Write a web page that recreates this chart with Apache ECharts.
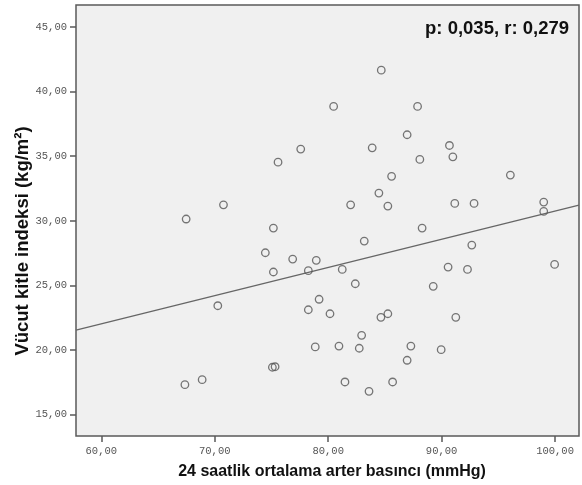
<!DOCTYPE html>
<html>
<head>
<meta charset="utf-8">
<script src="https://cdn.jsdelivr.net/npm/echarts@6/dist/echarts.min.js"></script>
<style>
  html, body { margin: 0; padding: 0; background: #ffffff; }
  #chart { width: 582px; height: 485px; }
</style>
</head>
<body>
<div id="chart"></div>
<script>
// ---- Data ----
const bloodPressure = [
  84.68, 80.48, 87.88, 86.96, 77.58, 83.88, 90.69, 75.58, 88.08, 90.99,
  85.59, 96.06, 84.47, 70.77, 81.98, 85.26, 91.16, 92.86, 99.00, 99.00,
  67.48, 75.17, 88.28, 83.18, 92.66, 74.46, 76.87, 78.95, 78.25, 75.17,
  81.24, 90.57, 92.28, 99.96, 82.39, 89.26, 79.20, 70.27, 78.25, 80.16,
  84.65, 85.26, 91.25, 82.95, 78.86, 80.95, 82.74, 87.29, 89.96, 86.96,
  75.08, 75.32, 68.89, 67.37, 81.48, 85.68, 83.60
];
const bodyMassIndex = [
  41.66, 38.85, 38.85, 36.66, 35.55, 35.65, 35.83, 34.54, 34.75, 34.95,
  33.44, 33.54, 32.15, 31.24, 31.24, 31.14, 31.35, 31.35, 31.45, 30.73,
  30.14, 29.44, 29.44, 28.43, 28.12, 27.53, 27.04, 26.94, 26.14, 26.04,
  26.24, 26.42, 26.24, 26.63, 25.13, 24.93, 23.93, 23.43, 23.12, 22.81,
  22.53, 22.81, 22.53, 21.14, 20.24, 20.31, 20.14, 20.31, 20.03, 19.21,
  18.67, 18.71, 17.71, 17.32, 17.53, 17.53, 16.81
];
const xTickValues = [60, 70, 80, 90, 100];
const yTickValues = [15, 20, 25, 30, 35, 40, 45];
const xRange = [57.77, 102.11];
const yRange = [13.35, 46.70];
const fitIntercept = 8.95;
const fitSlope = 0.218;
const xTitle = '24 saatlik ortalama arter basıncı (mmHg)';
const yTitle = 'Vücut kitle indeksi (kg/m²)';
const statText = 'p: 0,035, r: 0,279';

// ---- Build chart ----
const points = bloodPressure.map((x, i) => [x, bodyMassIndex[i]]);
const fitLine = xRange.map(x => [x, fitIntercept + fitSlope * x]);
const fmt = v => Number(v).toFixed(2).replace('.', ',');

const chart = echarts.init(document.getElementById('chart'), null, { renderer: 'canvas' });
const tickLabelStyle = {
  fontFamily: 'Liberation Mono',
  fontSize: 10.5,
  color: '#555555'
};
chart.setOption({
  animation: false,
  backgroundColor: '#ffffff',
  grid: {
    left: 76, right: 3, top: 5, bottom: 49,
    show: true,
    backgroundColor: '#f0f0f0',
    borderColor: '#5a5a5a',
    borderWidth: 1.5
  },
  xAxis: {
    type: 'value',
    min: xRange[0], max: xRange[1],
    axisLine: { show: false },
    splitLine: { show: false },
    axisTick: { show: true, length: 6, customValues: xTickValues, lineStyle: { color: '#5a5a5a', width: 1.5 } },
    axisLabel: Object.assign({ customValues: xTickValues, margin: 10, formatter: fmt }, tickLabelStyle)
  },
  yAxis: {
    type: 'value',
    min: yRange[0], max: yRange[1],
    axisLine: { show: false },
    splitLine: { show: false },
    axisTick: { show: true, length: 6, customValues: yTickValues, lineStyle: { color: '#5a5a5a', width: 1.5 } },
    axisLabel: Object.assign({ customValues: yTickValues, margin: 9, formatter: fmt }, tickLabelStyle)
  },
  graphic: [
    {
      type: 'text', x: 332, y: 472,
      style: { text: xTitle, fontFamily: 'Liberation Sans', fontWeight: 'bold', fontSize: 16, fill: '#111', align: 'center', verticalAlign: 'middle' }
    },
    {
      type: 'text', x: 23, y: 241, rotation: Math.PI / 2,
      style: { text: yTitle, fontFamily: 'Liberation Sans', fontWeight: 'bold', fontSize: 18.5, fill: '#111', align: 'center', verticalAlign: 'middle' }
    },
    {
      type: 'text', x: 569, y: 29,
      style: { text: statText, fontFamily: 'Liberation Sans', fontWeight: 'bold', fontSize: 18.5, fill: '#111', align: 'right', verticalAlign: 'middle' }
    }
  ],
  series: [
    {
      type: 'line',
      data: fitLine,
      symbol: 'none',
      lineStyle: { color: '#666666', width: 1.3 },
      z: 2,
      silent: true
    },
    {
      type: 'scatter',
      data: points,
      symbol: 'circle',
      symbolSize: 7.5,
      itemStyle: { color: 'rgba(0,0,0,0)', borderColor: '#555555', borderWidth: 1.3 },
      z: 3
    }
  ]
});
</script>
</body>
</html>
